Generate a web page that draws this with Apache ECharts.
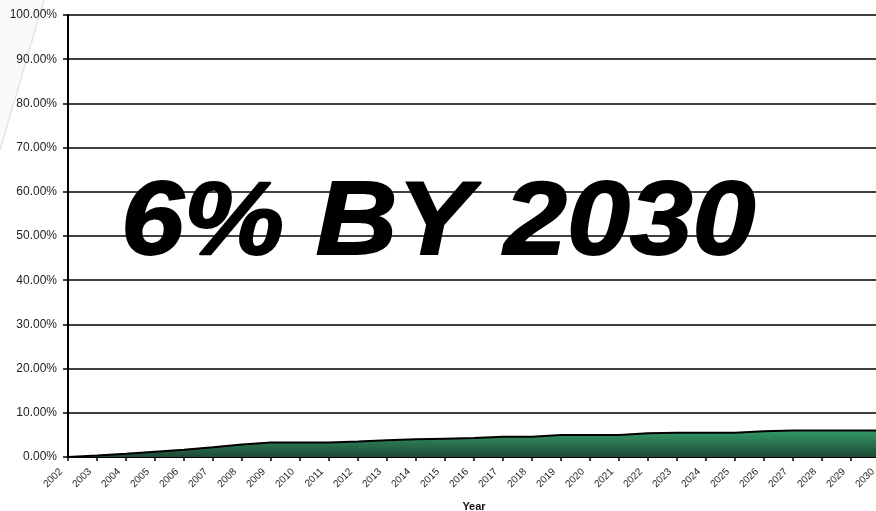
<!DOCTYPE html>
<html>
<head>
<meta charset="utf-8">
<script src="https://cdn.jsdelivr.net/npm/echarts@6/dist/echarts.min.js"></script>
<style>
html,body{margin:0;padding:0;background:#fff;}
#main{width:876px;height:511px;}
</style>
</head>
<body>
<div id="main"></div>
<script>
var years = ['2002','2003','2004','2005','2006','2007','2008','2009','2010','2011','2012','2013','2014','2015','2016','2017','2018','2019','2020','2021','2022','2023','2024','2025','2026','2027','2028','2029','2030'];
var share = [0.000,0.0035,0.0075,0.012,0.0165,0.022,0.0285,0.033,0.033,0.033,0.035,0.038,0.040,0.0415,0.043,0.046,0.046,0.050,0.050,0.050,0.054,0.055,0.055,0.055,0.058,0.060,0.060,0.060,0.060];
var yTicks = [0,0.1,0.2,0.3,0.4,0.5,0.6,0.7,0.8,0.9,1.0];
var overlayText = '6% BY 2030';
var xName = 'Year';

var chart = echarts.init(document.getElementById('main'));
chart.setOption({
  backgroundColor: '#ffffff',
  animation: false,
  graphic: [
    {type:'polygon', silent:true, z:-11, shape:{points:[[0,0],[44,0],[0,150]]}, style:{fill:'#f9f9fb'}},
    {type:'line', silent:true, z:-10, shape:{x1:44,y1:0,x2:0,y2:150}, style:{stroke:'#e4e4ea', lineWidth:1.5}},
    {type:'text', silent:true, z:100, left:120, top:172, scaleY:0.92,
     style:{text: overlayText, fill:'#000', stroke:'#000', lineWidth:2,
       font:'italic bold 113px "Liberation Sans", Arial, sans-serif'}}
  ],
  grid: {left:68, top:15, right:-4, bottom:54, containLabel:false, outerBoundsMode:'none'},
  xAxis: {
    type:'category', data: years, boundaryGap:false,
    name: xName, nameLocation:'middle', nameGap:44,
    nameTextStyle:{fontFamily:'Liberation Sans, Arial', fontWeight:'bold', fontSize:11, color:'#111'},
    axisLine:{lineStyle:{color:'#000', width:2}},
    axisTick:{show:true, interval:0, length:4, lineStyle:{color:'#000', width:1.5}},
    axisLabel:{interval:0, rotate:45, fontSize:10, fontFamily:'Liberation Sans, Arial', color:'#222', margin:6, padding:[0,10,0,0]},
    splitLine:{show:false}
  },
  yAxis: {
    type:'value', min:0, max:1, interval:0.1,
    axisLine:{show:true, lineStyle:{color:'#000', width:2}},
    axisTick:{show:true, length:5, lineStyle:{color:'#000', width:1.5}},
    axisLabel:{fontSize:12, fontFamily:'Liberation Sans, Arial', color:'#222', margin:11,
      formatter:function(v){ return (v*100).toFixed(2)+'%'; }},
    splitLine:{show:true, lineStyle:{color:'#000', width:1.5}}
  },
  series: [{
    type:'line', data: share, symbol:'none', smooth:false,
    lineStyle:{color:'#000', width:2},
    areaStyle:{opacity:1, color:{type:'linear', x:0,y:0,x2:0,y2:1, colorStops:[{offset:0,color:'#339966'},{offset:1,color:'#1d4a36'}]}},
    z:3
  }]
});
</script>
</body>
</html>
